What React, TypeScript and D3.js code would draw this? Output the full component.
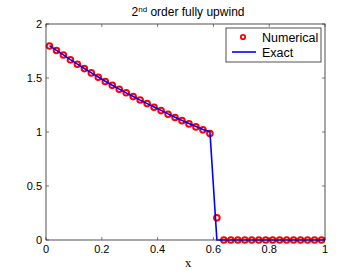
import React from 'react';
import * as d3 from 'd3';

// cell centres, dx = 0.025
const xs = d3.range(40).map((i) => (i + 0.5) / 40);

// numerical solution
const numerical = [
  1.796, 1.754, 1.713, 1.668, 1.627, 1.587, 1.547, 1.507, 1.468, 1.432,
  1.396, 1.363, 1.328, 1.296, 1.263, 1.229, 1.198, 1.165, 1.134, 1.105,
  1.075, 1.047, 1.02, 0.985, 0.205, 0, 0, 0, 0, 0,
  0, 0, 0, 0, 0, 0, 0, 0, 0, 0,
];

// exact solution sampled on the same points, plus x = 1
const exactX = [...xs, 1];
const exact = [
  1.8, 1.756, 1.714, 1.67, 1.629, 1.588, 1.548, 1.509, 1.47, 1.433,
  1.397, 1.362, 1.328, 1.295, 1.263, 1.231, 1.2, 1.168, 1.137, 1.107,
  1.078, 1.05, 1.023, 1.003, 0, 0, 0, 0, 0, 0,
  0, 0, 0, 0, 0, 0, 0, 0, 0, 0, 0,
];

const xTicks = [0, 0.2, 0.4, 0.6, 0.8, 1];
const yTicks = [0, 0.5, 1, 1.5, 2];

const W = 360;
const H = 271;
const m = { left: 46, right: 35, top: 24, bottom: 31 };

const App = () => {
  const x = d3.scaleLinear().domain([0, 1]).range([m.left, W - m.right]);
  const y = d3.scaleLinear().domain([0, 2]).range([H - m.bottom, m.top]);
  const line = d3.line<number>()
    .x((_, i) => x(exactX[i]))
    .y((d) => y(d));

  const axisCol = '#262626';
  const sans = 'Liberation Sans, Arial, sans-serif';
  const x0 = x(0), x1 = x(1), y0 = y(0), y1 = y(2);

  return (
    <svg width={W} height={H} style={{ position: 'absolute', left: 0, top: 0 }}>
      <rect width={W} height={H} fill="#fff" />

      {/* numerical: red rings */}
      {numerical.map((v, i) => (
        <circle key={i} cx={x(xs[i])} cy={y(v)} r={2.8}
          fill="none" stroke="#ff0000" strokeWidth={2} />
      ))}

      {/* exact */}
      <path d={line(exact) || ''} fill="none" stroke="#0000ff" strokeWidth={1.6} />

      {/* box */}
      <rect x={x0} y={y1} width={x1 - x0} height={y0 - y1}
        fill="none" stroke={axisCol} strokeWidth={0.8} />

      {xTicks.map((t) => (
        <g key={'x' + t}>
          <line x1={x(t)} x2={x(t)} y1={y0} y2={y0 - 3} stroke={axisCol} strokeWidth={0.6} />
          <line x1={x(t)} x2={x(t)} y1={y1} y2={y1 + 3} stroke={axisCol} strokeWidth={0.6} />
          <text x={x(t)} y={y0 + 13} textAnchor="middle" fontFamily={sans} fontSize={11} fill="#000">
            {String(t)}
          </text>
        </g>
      ))}

      {yTicks.map((t) => (
        <g key={'y' + t}>
          <line x1={x0} x2={x0 + 3} y1={y(t)} y2={y(t)} stroke={axisCol} strokeWidth={0.6} />
          <line x1={x1} x2={x1 - 3} y1={y(t)} y2={y(t)} stroke={axisCol} strokeWidth={0.6} />
          <text x={x0 - 4} y={y(t) + 4} textAnchor="end" fontFamily={sans} fontSize={11} fill="#000">
            {String(t)}
          </text>
        </g>
      ))}

      {/* title */}
      <text x={188} y={16} textAnchor="middle" fontFamily={sans} fontSize={12} fill="#000">
        2<tspan dy={-4} fontSize={8}>nd</tspan><tspan dy={4}> order fully upwind</tspan>
      </text>

      {/* x label */}
      <text x={188} y={267} textAnchor="middle" fontFamily="Liberation Serif, Times New Roman, serif" fontSize={12.5} fill="#000">
        x
      </text>

      {/* legend */}
      <rect x={226} y={28} width={95} height={34} fill="#fff" stroke={axisCol} strokeWidth={0.8} />
      <circle cx={243} cy={37} r={2.2} fill="none" stroke="#ff0000" strokeWidth={1.8} />
      <line x1={232} x2={256} y1={52} y2={52} stroke="#0000ff" strokeWidth={1.6} />
      <text x={262} y={41.5} fontFamily={sans} fontSize={12.5} fill="#000">Numerical</text>
      <text x={262} y={57} fontFamily={sans} fontSize={12.5} fill="#000">Exact</text>
    </svg>
  );
};

export default App;
